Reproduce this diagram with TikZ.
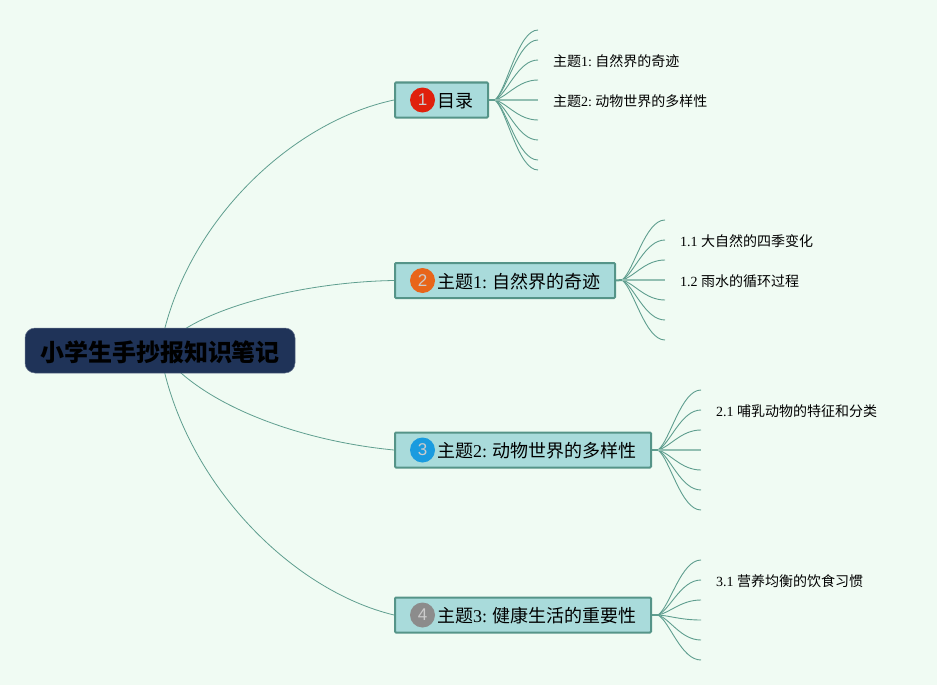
\documentclass[tikz,border=0pt]{standalone}
\usepackage{fontspec}
\setmainfont{Liberation Serif}
\newfontfamily\cjk{Noto Sans CJK SC}
\newfontfamily\iconfont{Liberation Sans}
\usetikzlibrary{backgrounds}
\definecolor{bgc}{HTML}{F0FBF3}
\definecolor{edgec}{HTML}{5F9E8F}
\definecolor{boxc}{HTML}{A9DBDB}
\definecolor{boxl}{HTML}{559488}
\definecolor{rootc}{HTML}{1F3358}
\definecolor{ired}{HTML}{E0200C}
\definecolor{iorange}{HTML}{E8651A}
\definecolor{iblue}{HTML}{1A9BDF}
\definecolor{igray}{HTML}{8C8C8C}
\tikzset{
  rootbox/.style={fill=rootc,draw=rootc!70!white,line width=0.5pt,rounded corners=10pt,minimum width=270pt,minimum height=45pt,inner sep=0pt,font=\cjk\bfseries\fontsize{24}{24}\selectfont,text=black},
  topicbox/.style={fill=boxc,draw=boxl,line width=2pt,rounded corners=1pt,minimum height=35pt,inner xsep=0pt,inner ysep=0pt,align=left,anchor=west,font=\fontsize{18}{18}\selectfont},
  iconc/.style={circle,minimum size=25pt,inner sep=0pt,text=white!80!black,font=\iconfont\fontsize{17}{17}\selectfont},
  leaftext/.style={anchor=west,inner sep=0pt,font=\fontsize{14}{14}\selectfont},
  link/.style={draw=edgec,line width=0.8pt},
  fanline/.style={draw=edgec,line width=0.9pt},
  stub/.style={draw=edgec,line width=2pt},
  midline/.style={draw=edgec!65!bgc,line width=2pt}
}
\newcommand{\leaffan}[5]{% name, parent node, origin x, origin y, list of y
  \coordinate (#1o) at (#3+5,#4);
  \draw[stub] (#2.east) -- (#1o);
  \foreach \yy in {#5}{
    \coordinate (#1e\yy) at (#3+48,\yy);
    \draw[fanline] (#1o) .. controls (#3+17,{#4+(\yy-#4)*0.15}) and (#3+28,\yy) .. (#1e\yy);
  }
}
\newcommand{\cs}{\hspace{0.32em}}
\newcommand{\ls}{\hspace{0.24em}}
\newcommand{\lowerby}[2]{\raisebox{-#1}[\height][\depth]{#2}}
\begin{document}
\begin{tikzpicture}[x=1pt,y=-1pt]
\useasboundingbox (0,0) rectangle (937,685);
\node[rootbox] (root) at (160,350.5) {\lowerby{1.5pt}{小学生手抄报知识笔记}};
\node[topicbox,text width=93pt] (t1) at (394,100) {\hspace*{42pt}\lowerby{1pt}{\cjk 目录}};
\node[topicbox,text width=220pt] (t2) at (394,280.5) {\hspace*{42pt}\lowerby{1pt}{{\cjk 主题}1:\cs{\cjk 自然界的奇迹}}};
\node[topicbox,text width=256pt] (t3) at (394,450) {\hspace*{42pt}\lowerby{1pt}{{\cjk 主题}2:\cs{\cjk 动物世界的多样性}}};
\node[topicbox,text width=256pt] (t4) at (394,615) {\hspace*{42pt}\lowerby{1pt}{{\cjk 主题}3:\cs{\cjk 健康生活的重要性}}};
\node[iconc,fill=ired] (i1) at (422.5,100) {1};
\node[iconc,fill=iorange] (i2) at (422.5,280.5) {2};
\node[iconc,fill=iblue] (i3) at (422.5,450) {3};
\node[iconc,fill=igray] (i4) at (422.5,615) {4};
\node[leaftext] (l11) at (553,61) {{\cjk 主题}1:\ls{\cjk 自然界的奇迹}};
\node[leaftext] (l12) at (553,101) {{\cjk 主题}2:\ls{\cjk 动物世界的多样性}};
\node[leaftext] (l21) at (680,241) {1.1 {\cjk 大自然的四季变化}};
\node[leaftext] (l22) at (680,281) {1.2 {\cjk 雨水的循环过程}};
\node[leaftext] (l31) at (716,411) {2.1 {\cjk 哺乳动物的特征和分类}};
\node[leaftext] (l41) at (716,581) {3.1 {\cjk 营养均衡的饮食习惯}};
\begin{scope}[on background layer]
\fill[bgc] (0,0) rectangle (937,685);
\draw[link] (root.center) .. controls (182,225) and (290,122) .. (t1.west);
\draw[link] (root.center) .. controls (190,310) and (300,282) .. (t2.west);
\draw[link] (root.center) .. controls (200,405) and (300,441) .. (t3.west);
\draw[link] (root.center) .. controls (182,480) and (290,590) .. (t4.west);
\leaffan{a}{t1}{490}{100}{30,40,60,80,100,120,140,160,170}
\leaffan{b}{t2}{617}{280}{220,240,260,280,300,320,340}
\leaffan{c}{t3}{653}{450}{390,410,430,450,470,490,510}
\leaffan{d}{t4}{653}{615}{560,580,600,620,640,660}
\draw[midline] (ao) -- (ae100);
\draw[midline] (bo) -- (be280);
\draw[midline] (co) -- (ce450);
\end{scope}
\end{tikzpicture}
\end{document}
